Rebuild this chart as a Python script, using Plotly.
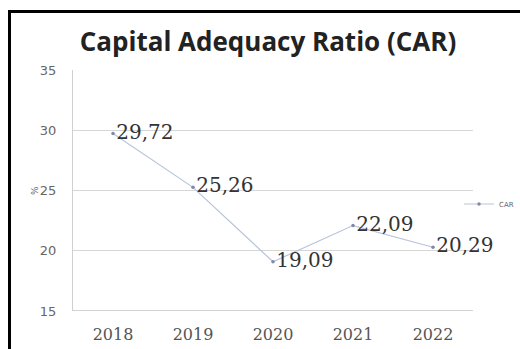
import plotly.graph_objects as go

years = ["2018", "2019", "2020", "2021", "2022"]
car = [29.72, 25.26, 19.09, 22.09, 20.29]
series_name = "CAR"
title_text = "Capital Adequacy Ratio (CAR)"
y_ticks = [15, 20, 25, 30, 35]

W, H = 520, 349
L, R, T, B = 73, 47, 70, 38
pw, ph = W - L - R, H - T - B

def px(x):
    return (x - L) / pw

def py(y):
    return (H - B - y) / ph

fig = go.Figure()
fig.add_trace(go.Scatter(
    x=years, y=car, name=series_name, mode="lines+markers+text",
    line=dict(color="#b9c3dd", width=1.2),
    marker=dict(size=3.5, color="#7f8aa8"),
    texttemplate="%{y:.2f}", textposition="middle right",
    textfont=dict(family="DejaVu Serif", size=20, color="#333333"),
    cliponaxis=False,
))

fig.update_layout(
    width=W, height=H,
    margin=dict(l=L, r=R, t=T, b=B, autoexpand=False),
    paper_bgcolor="white", plot_bgcolor="white",
    separators=", ",
    showlegend=True,
    legend=dict(x=px(459), y=py(204), xanchor="left", yanchor="middle",
                font=dict(family="DejaVu Sans", size=7, color="#666666"),
                itemwidth=30, bgcolor="rgba(0,0,0,0)", tracegroupgap=0),
    title=dict(text="<b>" + title_text + "</b>", x=px(268), xanchor="center",
               xref="paper", y=1 - 42 / H, yanchor="middle",
               font=dict(family="Open Sans", size=26, color="#222222")),
    xaxis=dict(type="category", range=[-0.5, 4.5], showgrid=False, showline=False,
               zeroline=False, ticks="", ticklabelstandoff=12,
               tickfont=dict(family="DejaVu Serif", size=16, color="#555555")),
    yaxis=dict(range=[15, 35], tickvals=y_ticks, showgrid=True, gridcolor="#d6d6d6",
               gridwidth=1.2, zeroline=False, showline=True, linecolor="#d0d0d0",
               ticks="", ticklabelstandoff=13,
               tickfont=dict(family="DejaVu Sans", size=13, color="#666666")),
)

# bottom axis line at 15 a bit darker
fig.add_shape(type="line", xref="paper", yref="y", x0=0, x1=1, y0=15, y1=15,
              line=dict(color="#c4c4c4", width=1.5))
# black frame (top and left)
fig.add_shape(type="line", xref="paper", yref="paper", x0=px(8), x1=px(522),
              y0=py(11.5), y1=py(11.5), line=dict(color="black", width=3))
fig.add_shape(type="line", xref="paper", yref="paper", x0=px(9.5), x1=px(9.5),
              y0=py(10), y1=py(352), line=dict(color="black", width=3))
# y-axis unit label
fig.add_annotation(text="%", xref="paper", yref="paper", x=px(28), y=py(191),
                   textangle=-90, showarrow=False,
                   font=dict(family="DejaVu Sans", size=9, color="#666666"))

fig.write_html("out.html")
